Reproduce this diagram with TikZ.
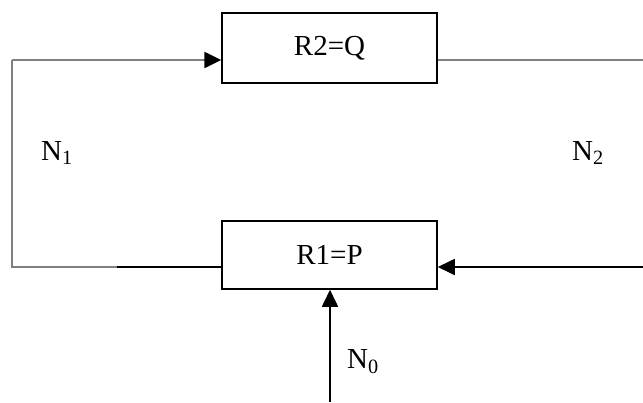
\documentclass[tikz,border=0pt]{standalone}
\usepackage{fontspec}
\setmainfont{Liberation Serif}
\usetikzlibrary{arrows.meta}
\begin{document}
\begin{tikzpicture}[x=1pt,y=-1pt,
  box/.style={draw=black,line width=1.5pt,minimum width=215pt,inner sep=0pt,
    font=\fontsize{29}{34}\selectfont},
  lbl/.style={font=\fontsize{29}{34}\selectfont,inner sep=0pt},
  grayline/.style={draw=black!50,line width=2.6pt},
  blackline/.style={draw=black,line width=1.7pt},
  tip/.style={-{Triangle[length=17pt,width=16pt,color=black]}}]
\useasboundingbox (0,0) rectangle (643,402);

% the two reactor boxes
\node[box,minimum height=70pt] (R2) at (329.5,48) {R2=Q};
\node[box,minimum height=68pt] (R1) at (329.5,255) {R1=P};

% levels of the feedback lines
\coordinate (top) at (12,60);
\coordinate (bot) at (12,267);
\coordinate (mid) at (117,267);
\coordinate (topR) at (643,60);
\coordinate (botR) at (643,267);
\coordinate (feed) at (330,402);

% left loop: from R1 up to R2
\draw[grayline] (mid) -- (bot) -- (top);
\draw[grayline,tip] (top) -- (R2.west |- top);
\draw[blackline] (R1.west |- bot) -- (mid);

% right loop: from R2 back to R1
\draw[grayline] (R2.east |- topR) -- (topR);
\draw[blackline,tip] (botR) -- (R1.east |- botR);

% feed into R1
\draw[blackline,tip] (feed) -- (R1.south -| feed);

% stream labels
\node[lbl] (n1) at (57,153) {N\textsubscript{1}};
\node[lbl] (n2) at (588,153) {N\textsubscript{2}};
\node[lbl] (n0) at (363,362) {N\textsubscript{0}};
\end{tikzpicture}
\end{document}
